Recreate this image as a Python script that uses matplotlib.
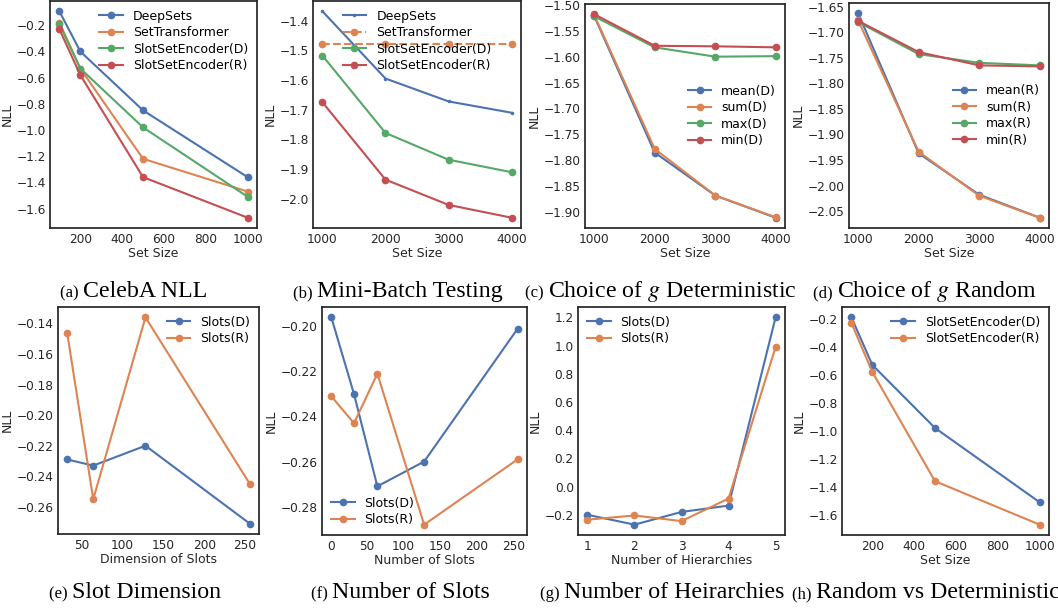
import matplotlib
matplotlib.use("Agg")
import matplotlib.pyplot as plt

# ---------------- data ----------------
set_size_small = [100, 200, 500, 1000]
set_size_large = [1000, 2000, 3000, 4000]

a_deepsets = [-0.093, -0.40, -0.85, -1.36]
a_settransformer = [-0.18, -0.53, -1.22, -1.47]
a_sse_d = [-0.19, -0.53, -0.98, -1.51]
a_sse_r = [-0.23, -0.58, -1.36, -1.67]

b_deepsets = [-1.369, -1.595, -1.672, -1.71]
b_settransformer = [-1.48, -1.48, -1.48, -1.48]
b_sse_d = [-1.518, -1.778, -1.868, -1.91]
b_sse_r = [-1.675, -1.935, -2.02, -2.063]

c_mean = [-1.521, -1.785, -1.868, -1.911]
c_sum = [-1.519, -1.778, -1.868, -1.91]
c_max = [-1.522, -1.582, -1.600, -1.599]
c_min = [-1.518, -1.579, -1.580, -1.582]

d_mean = [-1.663, -1.937, -2.018, -2.063]
d_sum = [-1.677, -1.934, -2.020, -2.063]
d_max = [-1.680, -1.743, -1.760, -1.765]
d_min = [-1.678, -1.739, -1.765, -1.767]

slot_dims = [32, 64, 128, 256]
e_slots_d = [-0.229, -0.233, -0.220, -0.271]
e_slots_r = [-0.146, -0.255, -0.136, -0.245]

num_slots = [1, 32, 64, 128, 256]
f_slots_d = [-0.196, -0.230, -0.271, -0.260, -0.201]
f_slots_r = [-0.231, -0.243, -0.221, -0.288, -0.259]

hierarchies = [1, 2, 3, 4, 5]
g_slots_d = [-0.20, -0.27, -0.18, -0.135, 1.20]
g_slots_r = [-0.235, -0.205, -0.245, -0.085, 0.99]

h_sse_d = [-0.19, -0.53, -0.98, -1.51]
h_sse_r = [-0.23, -0.58, -1.36, -1.67]

# tick labels
xt_small = [200, 400, 600, 800, 1000]
xt_slots = [50, 100, 150, 200, 250]
xt_nslots = [0, 50, 100, 150, 200, 250]
yt_a = [-0.2, -0.4, -0.6, -0.8, -1.0, -1.2, -1.4, -1.6]
yt_b = [-1.4, -1.5, -1.6, -1.7, -1.8, -1.9, -2.0]
yt_c = [-1.50, -1.55, -1.60, -1.65, -1.70, -1.75, -1.80, -1.85, -1.90]
yt_d = [-1.65, -1.70, -1.75, -1.80, -1.85, -1.90, -1.95, -2.00, -2.05]
yt_e = [-0.14, -0.16, -0.18, -0.20, -0.22, -0.24, -0.26]
yt_f = [-0.20, -0.22, -0.24, -0.26, -0.28]
yt_g = [-0.2, 0.0, 0.2, 0.4, 0.6, 0.8, 1.0, 1.2]
yt_h = [-0.2, -0.4, -0.6, -0.8, -1.0, -1.2, -1.4, -1.6]

captions = ["CelebA NLL", "Mini-Batch Testing", "Choice of $g$ Deterministic",
            "Choice of $g$ Random", "Slot Dimension", "Number of Slots",
            "Number of Heirarchies", "Random vs Deterministic"]
caption_tags = ["(a)", "(b)", "(c)", "(d)", "(e)", "(f)", "(g)", "(h)"]

# ---------------- style ----------------
BLUE, ORANGE, GREEN, RED = "#4C72B0", "#DD8452", "#55A868", "#C44E52"
TXT = "#262626"
plt.rcParams.update({
    "font.family": ["DejaVu Sans"],
    "font.size": 9,
    "axes.edgecolor": TXT,
    "axes.linewidth": 1.25,
    "axes.labelcolor": TXT,
    "axes.labelsize": 9,
    "xtick.color": TXT,
    "ytick.color": TXT,
    "xtick.labelsize": 8.7,
    "ytick.labelsize": 8.7,
    "xtick.major.size": 0,
    "ytick.major.size": 0,
    "xtick.major.pad": 3.5,
    "ytick.major.pad": 3,
    "legend.frameon": False,
    "legend.fontsize": 9,
    "legend.handlelength": 1.9,
    "legend.labelspacing": 0.28,
    "legend.borderaxespad": 0.3,
    "lines.linewidth": 1.5,
    "lines.markersize": 4.5,
    "mathtext.fontset": "stix",
})

W, H = 1058, 609
fig = plt.figure(figsize=(W / 100, H / 100), dpi=100)


def add_ax(l, t, r, b):
    return fig.add_axes([l / W, 1 - b / H, (r - l) / W, (b - t) / H])


axes_px = [
    (50, 1, 257, 228), (313, 1, 521, 228), (585, 4, 785, 228), (849, 3, 1049, 228),
    (58, 307, 259, 534), (322, 307, 527, 535), (578, 307, 785, 535), (842, 307, 1049, 535),
]
axs = [add_ax(*p) for p in axes_px]

# (a)
ax = axs[0]
ax.plot(set_size_small, a_deepsets, marker="o", color=BLUE, label="DeepSets")
ax.plot(set_size_small, a_settransformer, marker="o", color=ORANGE, label="SetTransformer")
ax.plot(set_size_small, a_sse_d, marker="o", color=GREEN, label="SlotSetEncoder(D)")
ax.plot(set_size_small, a_sse_r, marker="o", color=RED, label="SlotSetEncoder(R)")
ax.set_xticks(xt_small)
ax.set_yticks(yt_a)
ax.legend(loc="upper right")
ax.set_xlabel("Set Size", labelpad=1)

# (b)
ax = axs[1]
ax.plot(set_size_large, b_deepsets, marker=".", markersize=3, color=BLUE, label="DeepSets")
ax.plot(set_size_large, b_settransformer, marker="o", linestyle="--", color=ORANGE, label="SetTransformer")
ax.plot(set_size_large, b_sse_d, marker="o", color=GREEN, label="SlotSetEncoder(D)")
ax.plot(set_size_large, b_sse_r, marker="o", color=RED, label="SlotSetEncoder(R)")
ax.set_xticks(set_size_large)
ax.set_yticks(yt_b)
ax.legend(loc="upper center")
ax.set_xlabel("Set Size", labelpad=1)

# (c)
ax = axs[2]
ax.plot(set_size_large, c_mean, marker="o", color=BLUE, label="mean(D)")
ax.plot(set_size_large, c_sum, marker="o", color=ORANGE, label="sum(D)")
ax.plot(set_size_large, c_max, marker="o", color=GREEN, label="max(D)")
ax.plot(set_size_large, c_min, marker="o", color=RED, label="min(D)")
ax.set_xticks(set_size_large)
ax.set_yticks(yt_c)
ax.legend(loc="center right")
ax.set_xlabel("Set Size", labelpad=1)

# (d)
ax = axs[3]
ax.plot(set_size_large, d_mean, marker="o", color=BLUE, label="mean(R)")
ax.plot(set_size_large, d_sum, marker="o", color=ORANGE, label="sum(R)")
ax.plot(set_size_large, d_max, marker="o", color=GREEN, label="max(R)")
ax.plot(set_size_large, d_min, marker="o", color=RED, label="min(R)")
ax.set_xticks(set_size_large)
ax.set_yticks(yt_d)
ax.legend(loc="center right")
ax.set_xlabel("Set Size", labelpad=1)

# (e)
ax = axs[4]
ax.plot(slot_dims, e_slots_d, marker="o", color=BLUE, label="Slots(D)")
ax.plot(slot_dims, e_slots_r, marker="o", color=ORANGE, label="Slots(R)")
ax.set_xticks(xt_slots)
ax.set_yticks(yt_e)
ax.legend(loc="upper right")
ax.set_xlabel("Dimension of Slots", labelpad=1)

# (f)
ax = axs[5]
ax.plot(num_slots, f_slots_d, marker="o", color=BLUE, label="Slots(D)")
ax.plot(num_slots, f_slots_r, marker="o", color=ORANGE, label="Slots(R)")
ax.set_xticks(xt_nslots)
ax.set_yticks(yt_f)
ax.legend(loc="lower left")
ax.set_xlabel("Number of Slots", labelpad=1)

# (g)
ax = axs[6]
ax.plot(hierarchies, g_slots_d, marker="o", color=BLUE, label="Slots(D)")
ax.plot(hierarchies, g_slots_r, marker="o", color=ORANGE, label="Slots(R)")
ax.set_xticks(hierarchies)
ax.set_yticks(yt_g)
ax.legend(loc="upper left")
ax.set_xlabel("Number of Hierarchies", labelpad=1)

# (h)
ax = axs[7]
ax.plot(set_size_small, h_sse_d, marker="o", color=BLUE, label="SlotSetEncoder(D)")
ax.plot(set_size_small, h_sse_r, marker="o", color=ORANGE, label="SlotSetEncoder(R)")
ax.set_xticks(xt_small)
ax.set_yticks(yt_h)
ax.legend(loc="upper right")
ax.set_xlabel("Set Size", labelpad=1)

for ax in axs:
    ax.set_ylabel("NLL", labelpad=2)

# ---------------- captions ----------------
cap_centers = [134, 398, 661, 925, 135, 400, 662, 926]
cap_base = [297] * 4 + [598] * 4
fig.canvas.draw()
rend = fig.canvas.get_renderer()
for tag, cap, cx, cy in zip(caption_tags, captions, cap_centers, cap_base):
    y = 1 - cy / H
    t1 = fig.text(0, y, tag + " ", fontsize=12, family="Liberation Serif", va="baseline", color="black")
    t2 = fig.text(0, y, cap, fontsize=17.2, family="Liberation Serif", va="baseline", color="black")
    w1 = t1.get_window_extent(rend).width
    w2 = t2.get_window_extent(rend).width
    x0 = cx - (w1 + w2) / 2
    t1.set_x(x0 / W)
    t2.set_x((x0 + w1) / W)

fig.savefig("out.png", dpi=100)
